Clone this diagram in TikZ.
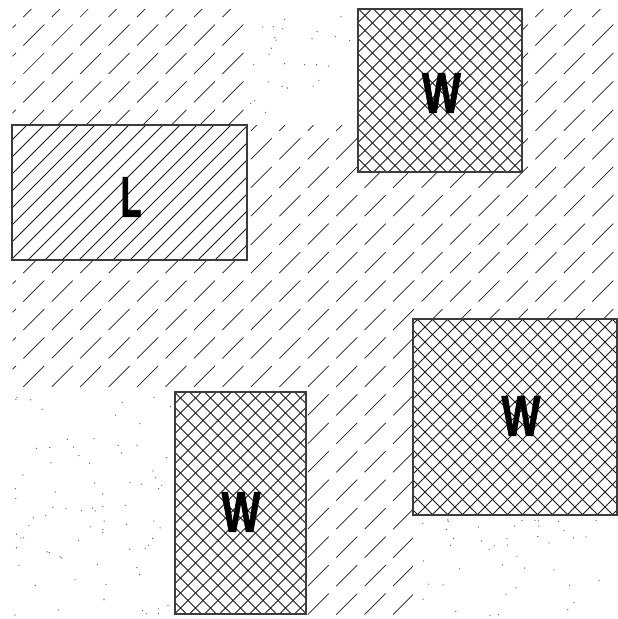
\documentclass[tikz,border=0pt]{standalone}
\usepackage{fontspec}
\setmainfont{Liberation Sans}[BoldFeatures={FakeBold=1.6}]
\usepackage{graphicx}
\usetikzlibrary{calc}
\definecolor{ink}{HTML}{1A1A1A}
\definecolor{speckgray}{HTML}{505050}
\tikzset{
  hatchseg/.style={draw=ink, line width=0.7pt},
  xline/.style={draw=ink, line width=0.75pt},
  speck/.style={fill=speckgray},
  plotbox/.style={draw=ink!85, line width=1.1pt, fill=white, inner sep=0pt},
  landbox/.style={plotbox, path picture={
    \foreach \k in {-16,...,16}
      \draw[xline] ([xshift=\k*17pt]path picture bounding box.center) ++(-250pt,-250pt) -- ++(500pt,500pt);
  }},
  wallbox/.style={plotbox, path picture={
    \foreach \k in {-16,...,16} {
      \draw[xline] ([xshift=\k*15pt]path picture bounding box.center) ++(-250pt,-250pt) -- ++(500pt,500pt);
      \draw[xline] ([xshift=\k*15pt]path picture bounding box.center) ++(-250pt,250pt) -- ++(500pt,-500pt);
    }
  }},
  tag/.style={font=\fontsize{57}{57}\selectfont\bfseries, inner sep=0pt}
}

\begin{document}
\begin{tikzpicture}[x=1pt, y=-1pt]
  \useasboundingbox (0,0) rectangle (618,619);
  % dashed slope hatching
  \begin{scope}
    \clip (12.5,9) rectangle (618,619);
    \foreach \i in {-1,...,21}
      \foreach \j in {0,...,21}
        \draw[hatchseg] ({23.3+28.45*\i},{45.5+28.45*(\j-1)}) -- ++(21,-21);
  \end{scope}
  % dotted ground
  \fill[white] (247,0) rectangle (358,125);
  \fill[white] (0,392) rectangle (175,619);
  \fill[white] (413,515) rectangle (618,619);
  \pgfmathsetseed{11}
  \foreach \n in {1,...,26}
    \fill[speck] ({250+106*rnd},{12+110*rnd}) circle (0.65pt);
  \foreach \n in {1,...,78}
    \fill[speck] ({14+158*rnd},{396+220*rnd}) circle (0.65pt);
  \foreach \n in {1,...,42}
    \fill[speck] ({416+198*rnd},{519+97*rnd}) circle (0.65pt);
  % blocks
  \node[landbox, minimum width=235pt, minimum height=135pt] (land) at (129.5,192.5) {};
  \node[wallbox, minimum width=164pt, minimum height=163pt] (wtop) at (440,90.5) {};
  \node[wallbox, minimum width=131pt, minimum height=222pt] (wlow) at (240.5,503) {};
  \node[wallbox, minimum width=204pt, minimum height=196pt] (wright) at (515,417) {};
  \node[tag] (landtag) at (131,197) {\scalebox{0.6}[1]{L}};
  \node[tag] (wtoptag) at (441.5,93) {\scalebox{0.72}[1]{W}};
  \node[tag] (wlowtag) at (241,512) {\scalebox{0.72}[1]{W}};
  \node[tag] (wrighttag) at (521,416) {\scalebox{0.72}[1]{W}};
\end{tikzpicture}
\end{document}
